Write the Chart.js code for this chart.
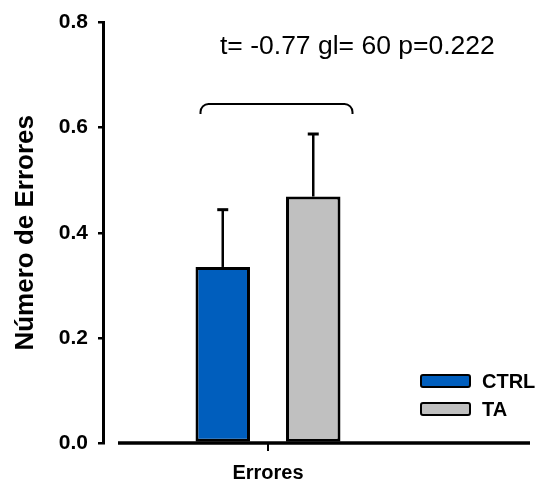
<!DOCTYPE html>
<html>
<head>
<meta charset="utf-8">
<script src="https://cdn.jsdelivr.net/npm/chart.js@4.4.1/dist/chart.umd.min.js"></script>
<style>
    html, body { margin: 0; padding: 0; background: #fff; }
    #wrap { width: 539px; height: 483px; }
</style>
</head>
<body>
<div id="wrap"><canvas id="errChart" width="539" height="483"></canvas></div>
<script>
// data
const categories = ["Errores"];
const groups = ["CTRL", "TA"];
const means = [0.335, 0.469];
const errors = [0.109, 0.119];
const barColors = ["#005ebd", "#c0c0c0"];
const yTicks = [0, 0.2, 0.4, 0.6, 0.8];
const statText = "t= -0.77 gl= 60 p=0.222";
const bracketLevel = [0.645];

const FONT = "Arial, 'Liberation Sans', sans-serif";

// error bars, bracket, stats text, axis line and legend
const extras = {
    id: "extras",
    afterDatasetsDraw(chart) {
        const ctx = chart.ctx;
        const y = chart.scales.y;
        const area = chart.chartArea;
        ctx.save();
        ctx.strokeStyle = "#000";

        // x axis line (detached from y axis)
        ctx.lineWidth = 3.5;
        ctx.beginPath();
        ctx.moveTo(area.left + 15, y.getPixelForValue(0));
        ctx.lineTo(530, y.getPixelForValue(0));
        ctx.stroke();

        // error bars
        const bars = [];
        chart.data.datasets.forEach((ds, i) => {
            const bar = chart.getDatasetMeta(i).data[0];
            bars.push(bar);
            const top = y.getPixelForValue(means[i] + errors[i]);
            ctx.lineWidth = 2.5;
            ctx.beginPath();
            ctx.moveTo(bar.x, bar.y);
            ctx.lineTo(bar.x, top);
            ctx.stroke();
            ctx.lineWidth = 3;
            ctx.beginPath();
            ctx.moveTo(bar.x - 5.5, top);
            ctx.lineTo(bar.x + 5.5, top);
            ctx.stroke();
        });

        // bracket
        const bl = bars[0].x - bars[0].width / 2 + 5;
        const br = bars[1].x + bars[1].width / 2 + 12;
        const by = y.getPixelForValue(bracketLevel[0]);
        const r = 8;
        ctx.lineWidth = 2;
        ctx.beginPath();
        ctx.moveTo(bl, by + 10);
        ctx.arcTo(bl, by, bl + r, by, r);
        ctx.lineTo(br - r, by);
        ctx.arcTo(br, by, br, by + 10, r);
        ctx.lineTo(br, by + 10);
        ctx.stroke();

        // stats text
        ctx.fillStyle = "#000";
        ctx.font = "26.5px " + FONT;
        ctx.textAlign = "left";
        ctx.textBaseline = "alphabetic";
        ctx.fillText(statText, 220, y.getPixelForValue(0.74));

        // legend
        ctx.font = "bold 20px " + FONT;
        ctx.textBaseline = "middle";
        groups.forEach((g, i) => {
            const top = 375 + i * 28;
            ctx.fillStyle = barColors[i];
            ctx.lineWidth = 2;
            ctx.beginPath();
            ctx.roundRect(421, top, 49, 12, 2);
            ctx.fill();
            ctx.stroke();
            ctx.fillStyle = "#000";
            ctx.fillText(g, 482, top + 7);
        });
        ctx.restore();
    }
};

new Chart(document.getElementById("errChart"), {
    type: "bar",
    data: {
        labels: categories,
        datasets: groups.map((g, i) => ({
            label: g,
            data: [means[i]],
            backgroundColor: barColors[i],
            borderColor: "#000",
            borderWidth: 3,
            borderSkipped: false,
            categoryPercentage: 0.5485,
            barPercentage: 0.602
        }))
    },
    options: {
        responsive: false,
        animation: false,
        layout: { padding: { top: 22, right: 106, bottom: 0, left: 0 } },
        plugins: {
            legend: { display: false },
            tooltip: { enabled: false }
        },
        scales: {
            x: {
                afterFit: s => { s.height = 40; },
                border: { display: false },
                grid: {
                    offset: false,
                    drawOnChartArea: false,
                    tickLength: 8,
                    color: "#000",
                    lineWidth: 2
                },
                ticks: {
                    padding: 10,
                    color: "#000",
                    font: { family: FONT, size: 20, weight: "bold" }
                }
            },
            y: {
                min: 0,
                max: 0.8,
                afterFit: s => { s.width = 103; },
                afterBuildTicks: s => { s.ticks = yTicks.map(v => ({ value: v })); },
                border: { display: true, color: "#000", width: 3 },
                grid: {
                    drawOnChartArea: false,
                    tickLength: 5,
                    color: "#000",
                    lineWidth: 2.5
                },
                ticks: {
                    padding: 10,
                    color: "#000",
                    font: { family: FONT, size: 21, weight: "bold" },
                    callback: v => v.toFixed(1)
                },
                title: {
                    display: true,
                    text: "Número de Errores",
                    color: "#000",
                    padding: { top: 10, bottom: 0 },
                    font: { family: FONT, size: 26, weight: "bold" }
                }
            }
        }
    },
    plugins: [extras]
});
</script>
</body>
</html>
